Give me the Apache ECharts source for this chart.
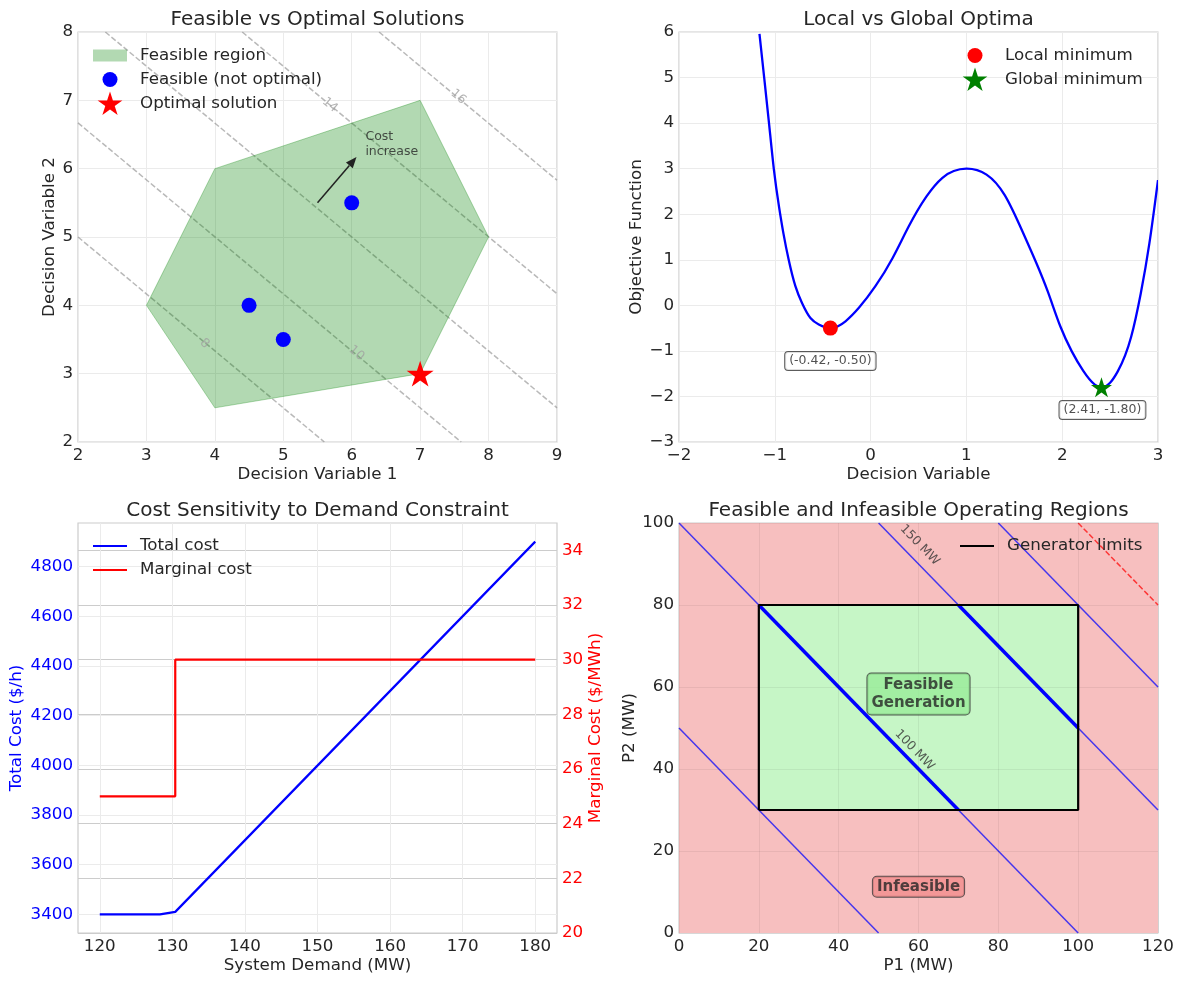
<!DOCTYPE html>
<html>
<head>
<meta charset="utf-8">
<style>
  body, html, #main { width: 1183px; height: 983px; margin: 0; background: #ffffff; }
</style>
<script src="https://cdn.jsdelivr.net/npm/echarts@6/dist/echarts.min.js"></script>
</head>
<body>
<div id="main"></div>
<script>
// ---------- panel 1: feasible vs optimal ----------
const feasibleVertices = [[3, 4], [4, 6], [7, 7], [8, 5], [7, 3], [4, 2.5]];
const feasiblePoints = [[4.5, 4], [5, 3.5], [6, 5.5]];
const optimalPoint = [[7, 3]];
const costLines = [
  [[2, 5], [5.6, 2]],
  [[2, 6.67], [7.6, 2]],
  [[2.4, 8], [9, 2.5]],
  [[4.4, 8], [9, 4.17]],
  [[6.4, 8], [9, 5.83]]
];
const costLabels = [[3.85, 3.44, '8'], [6.07, 3.30, '10'], [5.68, 6.93, '14'], [7.56, 7.05, '16']];
const costArrow = [[5.5, 5.5], [6.07, 6.17]];
const costArrowText = [[6.2, 6.58, 'Cost\nincrease']];
const dv1Ticks = [2, 3, 4, 5, 6, 7, 8, 9];
const dv2Ticks = [2, 3, 4, 5, 6, 7, 8];

// ---------- panel 2: local vs global ----------
const curveX = [-1.16, -1.11, -1.06, -1.01, -0.955, -0.91, -0.855, -0.785, -0.716, -0.628, -0.541, -0.42, -0.262, -0.12, 0.05, 0.23, 0.40, 0.58, 0.75, 1.00, 1.21, 1.40, 1.59, 1.73, 1.85, 1.98, 2.10, 2.22, 2.34, 2.41, 2.50, 2.58, 2.72, 2.82, 2.91, 3.00];
const curveY = [5.96, 4.98, 3.99, 2.99, 2.15, 1.58, 1.00, 0.42, 0.05, -0.28, -0.42, -0.50, -0.35, -0.05, 0.42, 1.04, 1.74, 2.38, 2.80, 3.00, 2.87, 2.42, 1.60, 0.93, 0.30, -0.46, -1.01, -1.44, -1.74, -1.80, -1.70, -1.45, -0.69, 0.26, 1.36, 2.75];
const localMin = [[-0.42, -0.50]];
const globalMin = [[2.41, -1.80]];
const optimaNotes = [[-0.42, -1.22, '(-0.42, -0.50)'], [2.42, -2.30, '(2.41, -1.80)']];
const dvTicks = [-2, -1, 0, 1, 2, 3];
const objTicks = [-3, -2, -1, 0, 1, 2, 3, 4, 5, 6];

// ---------- panel 3: cost sensitivity ----------
const demandTC = [120, 128.3, 130.4, 180];
const totalCost = [3400, 3400, 3410, 4900];
const demandMC = [120, 130.4, 130.4, 180];
const marginalCost = [25, 25, 30, 30];
const demandTicks = [120, 130, 140, 150, 160, 170, 180];
const totalCostTicks = [3400, 3600, 3800, 4000, 4200, 4400, 4600, 4800];
const marginalTicks = [20, 22, 24, 26, 28, 30, 32, 34];

// ---------- panel 4: operating regions ----------
const plotBounds = [[0, 0], [120, 0], [120, 100], [0, 100]];
const genBox = [[20, 30], [100, 30], [100, 80], [20, 80], [20, 30]];
const demandLines = [
  [[0, 50], [50, 0]],
  [[0, 100], [100, 0]],
  [[50, 100], [120, 30]],
  [[80, 100], [120, 60]]
];
const demandInBox = [
  [[20, 80], [70, 30]],
  [[70, 80], [100, 50]]
];
const maxLine = [[100, 100], [120, 80]];
const demandLabels = [[60.3, 94.6, '150 MW'], [59, 44.6, '100 MW']];
const regionLabels = [[60, 58.3, 'Feasible\nGeneration'], [60, 11.3, 'Infeasible']];
const p1Ticks = [0, 20, 40, 60, 80, 100, 120];
const p2Ticks = [0, 20, 40, 60, 80, 100];

// ---------- helpers ----------
const FONT = 'DejaVu Sans';
const INK = '#262626';
const FS = 16.7;

function starPath(cx, cy, R) {
  let d = '';
  for (let i = 0; i < 10; i++) {
    const a = -Math.PI / 2 + i * Math.PI / 5;
    const rr = i % 2 ? R * 0.382 : R;
    d += (i ? 'L' : 'M') + (cx + rr * Math.cos(a)).toFixed(2) + ',' + (cy + rr * Math.sin(a)).toFixed(2);
  }
  return d + 'Z';
}
const STAR = 'path://' + starPath(0, 0, 10);
// legend icons padded to a 42x24 box so the shapes keep their size
const ICON_RECT = 'path://M0,0 M0,6 H34 V18 H0 Z M42,24';
const ICON_LINE = 'path://M0,0 M0,11 H34 V13 H0 Z M42,24';
const ICON_CIRCLE = 'path://M0,0 M9.5,12 A7.5,7.5 0 1,0 24.5,12 A7.5,7.5 0 1,0 9.5,12 Z M42,24';
const ICON_STAR = 'path://M0,0 ' + starPath(17, 13, 13) + ' M42,24';

const fmt = v => (v < 0 ? '\u2212' + (-v) : String(v));

function gridBox(left, top) {
  return { left: left, top: top, width: 479, height: 410, show: true,
    borderColor: '#cccccc', borderWidth: 1.2, backgroundColor: 'transparent' };
}

function axis(gi, min, max, ticks, name, nameGap, extra, color) {
  const c = color || INK;
  return Object.assign({
    gridIndex: gi, type: 'value', min: min, max: max,
    name: name, nameLocation: 'middle', nameGap: nameGap,
    nameTextStyle: { color: c, fontSize: FS, fontFamily: FONT },
    axisLine: { show: false }, axisTick: { show: false, customValues: ticks },
    axisLabel: { customValues: ticks, color: c, fontSize: FS, fontFamily: FONT, margin: 5, formatter: fmt },
    splitLine: { show: true, lineStyle: { color: '#ebebeb', width: 1 } }
  }, extra || {});
}

function polygon(name, pts, xi, yi, fill, stroke, z) {
  return {
    type: 'custom', name: name, xAxisIndex: xi, yAxisIndex: yi, z: z, silent: true,
    itemStyle: { color: fill },
    data: pts,
    renderItem: function (params, api) {
      if (params.dataIndex !== 0) return null;
      return {
        type: 'polygon',
        shape: { points: pts.map(p => api.coord(p)) },
        style: { fill: fill, stroke: stroke || null, lineWidth: 1 }
      };
    }
  };
}

function segment(name, pts, xi, yi, color, width, type, z) {
  return {
    type: 'line', name: name, xAxisIndex: xi, yAxisIndex: yi, z: z || 2,
    data: pts, showSymbol: false, symbol: 'none', silent: true,
    itemStyle: { color: color },
    lineStyle: { color: color, width: width, type: type || 'solid' }
  };
}

function textMarks(data, xi, yi, label, z) {
  return {
    type: 'scatter', xAxisIndex: xi, yAxisIndex: yi, z: z || 6, silent: true,
    data: data, symbolSize: 1, itemStyle: { color: 'rgba(0,0,0,0)' },
    label: Object.assign({ show: true, position: 'inside', formatter: p => p.data[2],
      fontFamily: FONT, color: INK }, label)
  };
}

function legendBox(left, top, items) {
  return {
    left: left, top: top, orient: 'vertical', padding: 0, selectedMode: false,
    itemWidth: 42, itemHeight: 24, itemGap: 0,
    itemStyle: { borderWidth: 0 },
    textStyle: { color: INK, fontSize: FS, fontFamily: FONT },
    data: items
  };
}

// natural cubic spline through the read points, in screen space, as bezier path
function splinePath(px) {
  const n = px.length;
  const x = px.map(p => p[0]), y = px.map(p => p[1]);
  const h = [];
  for (let i = 0; i < n - 1; i++) h.push(x[i + 1] - x[i]);
  const M = new Array(n).fill(0);
  const a = [], b = [], c = [], r = [];
  for (let i = 1; i < n - 1; i++) {
    a.push(h[i - 1]); b.push(2 * (h[i - 1] + h[i])); c.push(h[i]);
    r.push(6 * ((y[i + 1] - y[i]) / h[i] - (y[i] - y[i - 1]) / h[i - 1]));
  }
  const m = b.length;
  for (let i = 1; i < m; i++) {
    const w = a[i] / b[i - 1];
    b[i] -= w * c[i - 1];
    r[i] -= w * r[i - 1];
  }
  const sol = new Array(m);
  sol[m - 1] = r[m - 1] / b[m - 1];
  for (let i = m - 2; i >= 0; i--) sol[i] = (r[i] - c[i] * sol[i + 1]) / b[i];
  for (let i = 0; i < m; i++) M[i + 1] = sol[i];
  let s = 'M' + x[0] + ',' + y[0];
  for (let i = 0; i < n - 1; i++) {
    const d = (y[i + 1] - y[i]) / h[i];
    const sL = d - h[i] * (2 * M[i] + M[i + 1]) / 6;
    const sR = d + h[i] * (M[i] + 2 * M[i + 1]) / 6;
    const t = h[i] / 3;
    s += ' C' + (x[i] + t) + ',' + (y[i] + sL * t) + ' ' + (x[i + 1] - t) + ',' + (y[i + 1] - sR * t) +
      ' ' + x[i + 1] + ',' + y[i + 1];
  }
  return s;
}

const series = [];

// panel 1
costLines.forEach((ln, i) => series.push(segment('cost' + i, ln, 0, 0, 'rgba(128,128,128,0.55)', 1.5, [5.5, 2.4], 1)));
series.push(polygon('Feasible region', feasibleVertices, 0, 0, 'rgba(0,128,0,0.3)', 'rgba(0,128,0,0.3)', 2));
series.push({ type: 'scatter', name: 'Feasible (not optimal)', xAxisIndex: 0, yAxisIndex: 0, z: 4,
  data: feasiblePoints, symbol: 'circle', symbolSize: 15, itemStyle: { color: '#0000ff', opacity: 1 } });
series.push({ type: 'scatter', name: 'Optimal solution', xAxisIndex: 0, yAxisIndex: 0, z: 4,
  data: optimalPoint, symbol: STAR, symbolKeepAspect: true, symbolSize: 27, itemStyle: { color: '#ff0000', opacity: 1 } });
series.push(textMarks(costLabels, 0, 0, { fontSize: 12.5, color: '#a0a0a0', rotate: -40 }, 3));
series.push(textMarks(costArrowText, 0, 0, { fontSize: 12.5, lineHeight: 15, align: 'left', verticalAlign: 'top' }));
// arrow drawn through the axis scales
series.push({
  type: 'custom', name: 'arrow', xAxisIndex: 0, yAxisIndex: 0, z: 5, silent: true,
  data: costArrow,
  renderItem: function (params, api) {
    if (params.dataIndex !== 0) return null;
    const a = api.coord(costArrow[0]);
    const b = api.coord(costArrow[1]);
    const ang = Math.atan2(b[1] - a[1], b[0] - a[0]);
    const L = 11, W = 4.5;
    const bx = b[0] - L * Math.cos(ang), by = b[1] - L * Math.sin(ang);
    const nx = -Math.sin(ang) * W, ny = Math.cos(ang) * W;
    return {
      type: 'group',
      children: [
        { type: 'line', shape: { x1: a[0], y1: a[1], x2: bx, y2: by },
          style: { stroke: '#222222', lineWidth: 1.5 } },
        { type: 'polygon', shape: { points: [[b[0], b[1]], [bx + nx, by + ny], [bx - nx, by - ny]] },
          style: { fill: '#222222' } }
      ]
    };
  }
});

// panel 2
const curvePts = curveX.map((x, i) => [x, curveY[i]]);
series.push({
  type: 'custom', name: 'Objective', xAxisIndex: 1, yAxisIndex: 1, z: 2, silent: true,
  data: curvePts, clip: true,
  renderItem: function (params, api) {
    if (params.dataIndex !== 0) return null;
    const px = curvePts.map(p => api.coord(p));
    return {
      type: 'path',
      shape: { pathData: splinePath(px) },
      style: { fill: null, stroke: '#0000ff', lineWidth: 2.3, lineJoin: 'round' }
    };
  }
});
series.push({ type: 'scatter', name: 'Local minimum', xAxisIndex: 1, yAxisIndex: 1, z: 4,
  data: localMin, symbol: 'circle', symbolSize: 15, itemStyle: { color: '#ff0000', opacity: 1 } });
series.push({ type: 'scatter', name: 'Global minimum', xAxisIndex: 1, yAxisIndex: 1, z: 4,
  data: globalMin, symbol: STAR, symbolKeepAspect: true, symbolSize: 21, itemStyle: { color: '#008000', opacity: 1 } });
series.push(textMarks(optimaNotes, 1, 1, { fontSize: 12.5, backgroundColor: '#ffffff', borderColor: '#333333',
  borderWidth: 1, borderRadius: 3, padding: [3, 4, 2, 4] }));

// panel 3
series.push({ type: 'line', name: 'Total cost', xAxisIndex: 2, yAxisIndex: 2, z: 3,
  data: demandTC.map((d, i) => [d, totalCost[i]]), showSymbol: false, symbol: 'none',
  itemStyle: { color: '#0000ff' }, lineStyle: { color: '#0000ff', width: 2.2 } });
series.push({ type: 'line', name: 'Marginal cost', xAxisIndex: 2, yAxisIndex: 3, z: 3,
  data: demandMC.map((d, i) => [d, marginalCost[i]]), showSymbol: false, symbol: 'none',
  itemStyle: { color: '#ff0000' }, lineStyle: { color: '#ff0000', width: 2.2 } });

// panel 4
series.push(polygon('infeasible', plotBounds, 3, 4, '#f7bfbf', null, 0));
series.push(polygon('feasible', genBox.slice(0, 4), 3, 4, '#c6f6c6', null, 1));
demandLines.forEach((ln, i) => series.push(segment('demand' + i, ln, 3, 4, 'rgba(0,0,255,0.72)', 1.5, 'solid', 2)));
demandInBox.forEach((ln, i) => series.push(segment('inbox' + i, ln, 3, 4, '#0000ff', 3.5, 'solid', 3)));
series.push(segment('max', maxLine, 3, 4, 'rgba(255,0,0,0.72)', 1.5, [5.5, 2.4], 2));
series.push(segment('Generator limits', genBox, 3, 4, '#000000', 2.2, 'solid', 4));
series.push(textMarks(demandLabels, 3, 4, { fontSize: 12.5, color: '#333333', rotate: -46 }));
series.push(textMarks(regionLabels.slice(0, 1), 3, 4, { fontSize: 15, fontWeight: 'bold', lineHeight: 18,
  backgroundColor: '#99ec99', borderColor: '#333333', borderWidth: 1, borderRadius: 4, padding: [3, 4, 2, 4] }));
series.push(textMarks(regionLabels.slice(1), 3, 4, { fontSize: 15, fontWeight: 'bold',
  backgroundColor: '#f18d8d', borderColor: '#333333', borderWidth: 1, borderRadius: 4, padding: [3, 4, 2, 4] }));

const titleStyle = { color: INK, fontSize: 20, fontWeight: 'normal', fontFamily: FONT };

const option = {
  animation: false,
  backgroundColor: '#ffffff',
  textStyle: { fontFamily: FONT },
  title: [
    { text: 'Feasible vs Optimal Solutions', left: 317.5, top: 10, textAlign: 'center', padding: 0, textStyle: titleStyle },
    { text: 'Local vs Global Optima', left: 918.5, top: 10, textAlign: 'center', padding: 0, textStyle: titleStyle },
    { text: 'Cost Sensitivity to Demand Constraint', left: 317.5, top: 501, textAlign: 'center', padding: 0, textStyle: titleStyle },
    { text: 'Feasible and Infeasible Operating Regions', left: 918.5, top: 501, textAlign: 'center', padding: 0, textStyle: titleStyle }
  ],
  legend: [
    legendBox(93, 43.5, [
      { name: 'Feasible region', icon: ICON_RECT },
      { name: 'Feasible (not optimal)', icon: ICON_CIRCLE },
      { name: 'Optimal solution', icon: ICON_STAR }
    ]),
    legendBox(958, 43.5, [
      { name: 'Local minimum', icon: ICON_CIRCLE },
      { name: 'Global minimum', icon: ICON_STAR }
    ]),
    legendBox(93, 534, [
      { name: 'Total cost', icon: ICON_LINE },
      { name: 'Marginal cost', icon: ICON_LINE }
    ]),
    legendBox(960, 534, [
      { name: 'Generator limits', icon: ICON_LINE }
    ])
  ],
  grid: [gridBox(78, 32), gridBox(679, 32), gridBox(78, 523), gridBox(679, 523)],
  xAxis: [
    axis(0, 2, 9, dv1Ticks, 'Decision Variable 1', 24),
    axis(1, -2, 3, dvTicks, 'Decision Variable', 24),
    axis(2, 117, 183, demandTicks, 'System Demand (MW)', 24),
    axis(3, 0, 120, p1Ticks, 'P1 (MW)', 24, { z: 5, splitLine: { show: true, lineStyle: { color: 'rgba(0,0,0,0.06)' } } })
  ],
  yAxis: [
    axis(0, 2, 8, dv2Ticks, 'Decision Variable 2', 19.5),
    axis(1, -3, 6, objTicks, 'Objective Function', 33.5),
    axis(2, 3325, 4975, totalCostTicks, 'Total Cost ($/h)', 52.5, { position: 'left' }, '#0000ff'),
    axis(2, 20, 35, marginalTicks, 'Marginal Cost ($/MWh)', 28.5, {
      position: 'right',
      splitLine: { show: true, lineStyle: { color: '#cccccc', width: 1 } }
    }, '#ff0000'),
    axis(3, 0, 100, p2Ticks, 'P2 (MW)', 39.5, { z: 5, splitLine: { show: true, lineStyle: { color: 'rgba(0,0,0,0.06)' } } })
  ],
  series: series
};

const chart = echarts.init(document.getElementById('main'), null, { width: 1183, height: 983 });
chart.setOption(option);
</script>
</body>
</html>
